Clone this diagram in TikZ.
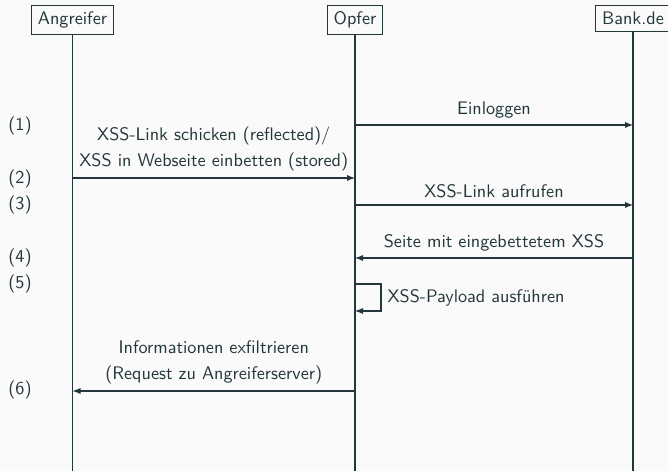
\documentclass[tikz,border=0pt]{standalone}
\usepackage{fontspec}
\usetikzlibrary{arrows.meta}
\definecolor{fg}{HTML}{23373B}
\definecolor{bg}{HTML}{FAFAFA}
\begin{document}
\begin{tikzpicture}[x=0.55pt,y=-0.55pt,
  every node/.style={font=\sffamily\fontsize{10}{14.3}\selectfont, text=fg},
  actor/.style={draw=fg, line width=0.6pt, inner sep=3.5pt, anchor=north},
  life/.style={draw=fg, line width=0.6pt},
  msg/.style={draw=fg, line width=0.6pt, -{Latex[length=4.4pt,width=3.4pt]}},
  num/.style={anchor=west, inner sep=0pt},
  lbl/.style={align=center}]
\fill[bg] (0,0) rectangle (668,471);
\useasboundingbox (0,0) rectangle (668,471);
% actors
\node[actor] (A) at (72.5,5) {Angreifer};
\node[actor] (O) at (355,5) {Opfer};
\node[actor] (B) at (633,5) {Bank.de};
\coordinate (Aend) at (72.5,471);
\coordinate (Oend) at (355,471);
\coordinate (Bend) at (633,471);
\draw[life] (A) -- (Aend);
\draw[life] (O) -- (Oend);
\draw[life] (B) -- (Bend);
% event points
\coordinate (O1) at (355,125);
\coordinate (B1) at (633,125);
\coordinate (A2) at (72.5,178);
\coordinate (O2) at (355,178);
\coordinate (O3) at (355,205);
\coordinate (B3) at (633,205);
\coordinate (B4) at (633,258);
\coordinate (O4) at (355,258);
\coordinate (O5) at (355,284);
\coordinate (O5b) at (355,311);
\coordinate (O6) at (355,391);
\coordinate (A6) at (72.5,391);
% messages
\draw[msg] (O1) -- node[above] (m1) {Einloggen} (B1);
\draw[msg] (A2) -- node[above, lbl] (m2) {XSS-Link schicken (reflected)/\\XSS in Webseite einbetten (stored)} (O2);
\draw[msg] (O3) -- node[above] (m3) {XSS-Link aufrufen} (B3);
\draw[msg] (B4) -- node[above] (m4) {Seite mit eingebettetem XSS} (O4);
\draw[msg] (O5) -- ++(26,0) |- node[pos=0.25, right] (m5) {XSS-Payload ausführen} (O5b);
\draw[msg] (O6) -- node[above, lbl] (m6) {Informationen exfiltrieren\\(Request zu Angreiferserver)} (A6);
% step numbers
\node[num] (n1) at (8,126) {(1)};
\node[num] (n2) at (8,179) {(2)};
\node[num] (n3) at (8,205) {(3)};
\node[num] (n4) at (8,258) {(4)};
\node[num] (n5) at (8,284) {(5)};
\node[num] (n6) at (8,390) {(6)};
\end{tikzpicture}
\end{document}
